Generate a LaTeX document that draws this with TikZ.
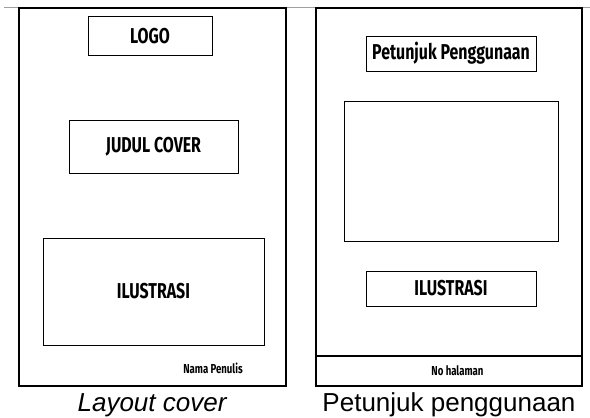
\documentclass[tikz,border=0pt]{standalone}
\usepackage{fontspec}
\setmainfont{Liberation Sans}
\newfontfamily\sketchfont[FakeStretch=0.74]{Fira Sans}
\usetikzlibrary{positioning}

\begin{document}
\begin{tikzpicture}[x=1pt,y=-1pt]
    \tikzstyle{page}=[rectangle, draw, line width=1.2pt, inner sep=0pt]
    \tikzstyle{box}=[rectangle, draw, line width=1pt, inner sep=0pt, font=\sketchfont\bfseries\fontsize{21.5}{25}\selectfont]
    \tikzstyle{small}=[inner sep=0pt, font=\sketchfont\bfseries\fontsize{13}{15}\selectfont]
    \tikzstyle{caption}=[inner sep=0pt, anchor=base, font=\fontsize{26}{29}\selectfont]

    \useasboundingbox (0,0) rectangle (590,418);
    \draw[gray!75, line width=1.5pt] (4,7.5) -- (590,7.5);

    % layout cover
    \node (cover) [page, minimum width=267pt, minimum height=378pt] at (152.5,197) {};
    \node (logo) [box, minimum width=124pt, minimum height=39pt] at (150,36) {LOGO};
    \node (judul) [box, minimum width=169pt, minimum height=53pt] at (153.5,146.5) {JUDUL COVER};
    \node (ilus) [box, minimum width=221pt, minimum height=107pt] at (153.5,291.5) {ILUSTRASI};
    \node (penulis) [small] at (213,368) {Nama Penulis};

    % petunjuk penggunaan
    \node (guide) [page, minimum width=266pt, minimum height=378pt] at (449,197) {};
    \node (footer) [page, small, minimum width=266pt, minimum height=30pt] at (449,371) {\hspace{17pt}No halaman};
    \node (judul2) [box, minimum width=170pt, minimum height=35pt] at (451,53.5) {Petunjuk Penggunaan};
    \node (gambar) [box, minimum width=214pt, minimum height=140pt] at (451,171) {};
    \node (ilus2) [box, minimum width=170pt, minimum height=35pt] at (451,288.5) {ILUSTRASI};

    % captions
    \path (cover.south)+(0,24.5) node (c0) [caption] {\textit{Layout cover}};
    \path (guide.south)+(0,24.5) node (c1) [caption] {Petunjuk penggunaan};
\end{tikzpicture}
\end{document}
